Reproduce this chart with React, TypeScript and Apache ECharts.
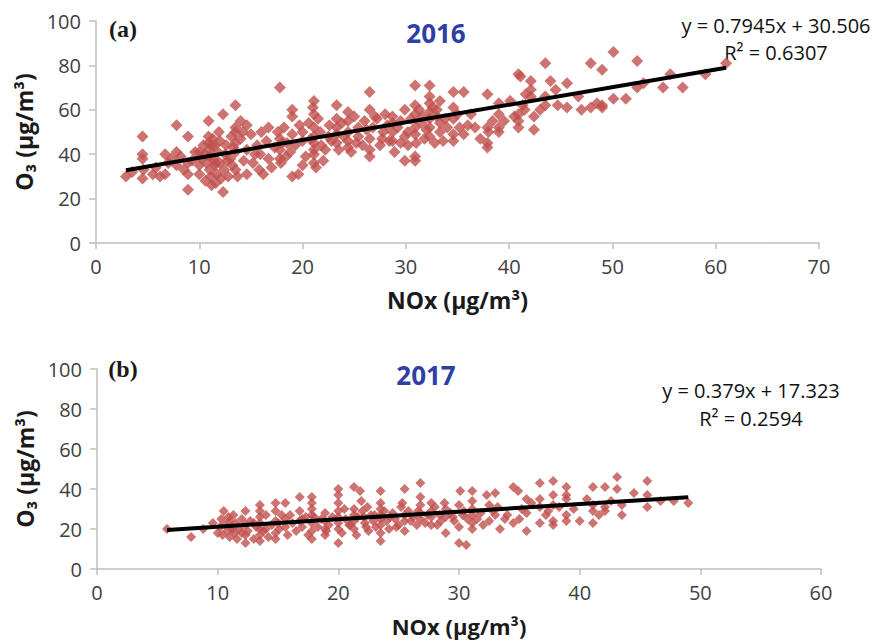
import React, { useEffect, useRef } from "react";
import * as echarts from "echarts";

// 2016 (a): NOx vs O3 observations
const nox2016: number[] = [
  2.9, 3.5, 4.5, 4.5, 4.5, 4.5, 4.6, 5.5, 5.8, 6.2, 6.7, 6.7, 7, 7.3, 7.8, 7.8, 7.8, 8.2, 8.5, 8.9, 8.9, 8.9, 8.9, 9.3, 9.6, 10, 10, 10, 10.2, 10.4,
  10.6, 10.7, 10.9, 10.9, 10.9, 11, 11, 11, 11.1, 11.2, 11.3, 11.4, 11.5, 11.5, 11.6, 11.7, 11.8, 11.9, 12, 12, 12.3, 12.3, 12.4, 12.5, 12.6, 12.8, 13, 13.1, 13.2, 13.5,
  13.5, 13.5, 13.5, 13.5, 13.5, 13.7, 14, 14, 14.3, 14.6, 14.6, 14.6, 15, 15.2, 15.6, 15.8, 15.9, 16.2, 16.5, 16.7, 16.7, 17, 17.3, 17.6, 17.8, 17.8, 17.8, 17.8, 17.9, 18.2,
  18.5, 18.8, 19, 19, 19, 19, 19.3, 19.6, 20, 20, 20, 20.3, 20.6, 21, 21.1, 21.1, 21.1, 21.1, 21.1, 21.1, 21.1, 21.1, 21.3, 21.5, 21.8, 22.2, 22.5, 22.8, 23.3, 23.3,
  23.3, 23.3, 23.3, 23.5, 23.8, 24.4, 24.4, 24.4, 24.4, 24.4, 24.7, 25, 25.4, 25.4, 25.8, 26, 26.5, 26.5, 26.5, 26.5, 26.5, 26.8, 27.2, 27.5, 27.8, 28, 28.4, 28.7, 28.7, 28.7,
  28.7, 28.9, 29.2, 29.5, 29.9, 29.9, 29.9, 30.2, 30.5, 30.9, 30.9, 30.9, 30.9, 30.9, 30.9, 30.9, 31.3, 31.5, 31.8, 32.3, 32.3, 32.3, 32.3, 32.3, 32.3, 32.3, 32.6, 32.8, 33, 33.3,
  33.3, 33.3, 33.6, 34, 34.6, 34.6, 34.6, 34.6, 34.6, 35, 35.6, 35.6, 36, 36.7, 37.2, 37.9, 37.9, 37.9, 37.9, 38.4, 39, 39, 39, 39, 40.1, 40.5, 40.9, 41.1, 40.9, 40.9,
  40.9, 41.3, 41.6, 42.1, 42.1, 42.1, 42.4, 42.4, 43, 43.5, 43.5, 43.5, 44, 44.5, 45.6, 45.6, 46.7, 47.9, 47.9, 48.5, 49, 49, 49, 50.1, 50.1, 51.3, 52.4, 52.4, 53, 54.9,
  55.6, 56.8, 59, 61,
  10.5, 11.2, 11.6, 12.1, 12.7, 13.3, 14.2, 15.4, 16, 18, 18.4, 19.7, 20.8, 21.7, 22, 22.6, 24, 25.2, 26.2, 27, 27.7, 28.2, 29.5, 30.2, 31, 31.6, 32, 33, 33.8, 35.2,
  36.3, 38, 39.5, 41.5, 44.7, 47
];
const o3_2016: number[] = [
  30, 32, 48, 40, 38, 29, 33, 31, 34, 30, 40, 31, 36, 38, 53, 41, 35, 39, 33, 48, 36, 31, 24, 37, 41, 41, 35, 31, 38, 44,
  28, 36, 55, 48, 45, 42, 39, 33, 30, 26, 47, 38, 35, 44, 27, 31, 41, 50, 36, 46, 58, 23, 33, 40, 44, 30, 38, 48, 35, 62,
  52, 50, 45, 41, 33, 30, 55, 47, 37, 53, 42, 31, 49, 36, 44, 33, 40, 31, 46, 52, 38, 34, 43, 50, 70, 47, 42, 38, 36, 52,
  45, 41, 60, 57, 49, 30, 44, 31, 50, 46, 35, 39, 54, 61, 64, 58, 52, 48, 45, 42, 40, 36, 34, 56, 44, 42, 48, 46, 62, 56,
  52, 49, 45, 42, 54, 59, 55, 50, 46, 43, 41, 57, 52, 48, 44, 55, 68, 60, 47, 42, 39, 52, 56, 44, 50, 58, 46, 57, 54, 50,
  46, 41, 52, 55, 60, 48, 37, 44, 56, 71, 62, 58, 52, 49, 39, 37, 60, 54, 47, 71, 66, 63, 59, 56, 52, 48, 61, 45, 57, 50,
  54, 64, 46, 52, 68, 61, 56, 49, 46, 58, 68, 49, 53, 52, 47, 67, 52, 45, 43, 55, 63, 58, 52, 50, 64, 57, 76, 75, 58, 55,
  52, 62, 67, 73, 69, 66, 57, 51, 60, 81, 66, 62, 73, 69, 72, 61, 66, 81, 61, 63, 78, 61, 62, 86, 65, 65, 82, 70, 72, 70,
  76, 70, 76, 81,
  40, 44, 36, 29, 37, 43, 50, 40, 50, 45, 39, 53, 47, 50, 37, 53, 48, 45, 51, 57, 47, 53, 45, 50, 45, 57, 51, 60, 56, 52,
  58, 50, 55, 60, 62, 60
];

// 2017 (b): NOx vs O3 observations
const nox2017: number[] = [
  5.8, 7.8, 8.8, 9.6, 10, 10.2, 10.3, 10.4, 10.5, 10.6, 10.8, 10.9, 11, 11, 11.1, 11.3, 11.4, 11.5, 11.6, 11.8, 12, 12.3, 12.3, 12.3, 12.3, 12.5, 12.7, 13, 13.2, 13.5,
  13.5, 13.5, 13.5, 13.5, 13.5, 13.5, 13.8, 14, 14.2, 14.5, 14.8, 14.8, 14.8, 14.8, 14.8, 15.1, 15.3, 15.6, 15.6, 15.6, 15.8, 16.2, 16.5, 16.8, 16.8, 16.8, 17, 17.3, 17.5, 17.8,
  17.8, 17.8, 17.8, 17.8, 17.8, 17.8, 18.3, 18.6, 18.9, 18.9, 18.9, 18.9, 19.2, 19.5, 20, 20, 20, 20, 20, 20, 20, 20, 20.3, 20.6, 20.9, 21.3, 21.3, 21.3, 21.3, 21.3,
  21.5, 21.8, 21.9, 22, 22.1, 22.2, 22.3, 22.5, 22.7, 22.9, 23.1, 23.5, 23.5, 23.5, 23.5, 23.5, 23.5, 23.5, 23.5, 23.8, 24, 24.2, 24.5, 24.7, 25, 25.2, 25.5, 25.5, 25.5, 25.5,
  25.8, 26.2, 26.5, 26.8, 26.8, 26.8, 26.8, 26.8, 27.2, 27.7, 27.7, 27.7, 27.7, 28, 28.4, 28.5, 28.9, 28.9, 28.9, 29.3, 29.6, 30, 30, 30, 30.1, 30.3, 30.6, 30.7, 31.1, 31.1,
  31.1, 31.1, 31.1, 31.1, 31.5, 32.3, 32.5, 32.5, 32.8, 33, 33, 33.4, 33.8, 34.5, 34.9, 34.5, 35.2, 35.6, 35.6, 35.6, 36.7, 36.7, 36.7, 36.7, 37.2, 37.8, 37.8, 37.8, 37.8, 37.8,
  38.9, 38.9, 38.9, 38.9, 38.9, 39.5, 40, 41.1, 41.1, 41.1, 41.1, 41.6, 42.1, 42.1, 42.1, 43.1, 43.1, 43.5, 43.5, 45.6, 45.6, 45.6, 46.7, 47.8, 49,
  11.2, 12, 13, 14, 15, 16, 17, 18, 19, 20.5, 21, 21.6, 22.4, 23, 24.3, 24.8, 25.3, 26, 26.6, 27.4, 28.2, 28.8, 29.5, 30.4, 31.8, 32, 33.2, 34, 35, 36,
  37.4, 38.3, 40.6, 42.6, 44.5
];
const o3_2017: number[] = [
  20, 16, 20, 23, 18, 21, 25, 17, 29, 22, 19, 26, 24, 16, 21, 27, 18, 23, 15, 20, 25, 29, 22, 13, 17, 19, 24, 15, 21, 32,
  29, 26, 23, 20, 17, 14, 19, 27, 16, 22, 33, 29, 24, 18, 15, 20, 27, 33, 25, 21, 17, 23, 19, 36, 29, 24, 21, 26, 17, 36,
  33, 30, 27, 23, 19, 15, 21, 25, 28, 24, 20, 17, 22, 26, 40, 37, 33, 29, 26, 23, 20, 13, 18, 25, 22, 41, 30, 27, 24, 20,
  17, 39, 34, 29, 26, 23, 21, 19, 27, 24, 21, 39, 33, 30, 27, 25, 22, 18, 14, 29, 24, 20, 28, 25, 22, 31, 40, 27, 24, 19,
  29, 26, 22, 43, 36, 32, 28, 25, 23, 33, 29, 26, 22, 31, 27, 24, 30, 26, 18, 28, 24, 32, 21, 13, 39, 27, 12, 25, 39, 34,
  30, 27, 23, 20, 25, 37, 32, 24, 29, 38, 27, 20, 25, 41, 39, 23, 30, 35, 28, 19, 43, 35, 31, 23, 27, 44, 37, 32, 24, 22,
  41, 37, 35, 27, 24, 30, 24, 41, 32, 29, 23, 27, 41, 31, 29, 46, 40, 32, 27, 44, 37, 31, 34, 34, 33,
  20, 18, 23, 20, 23, 27, 25, 26, 19, 30, 22, 26, 31, 27, 26, 21, 33, 24, 29, 27, 22, 33, 26, 29, 28, 22, 31, 27, 25, 33,
  29, 31, 35, 34, 38
];

// Linear trend equations shown on the chart
const fit2016 = { slope: 0.7945, intercept: 30.506, r2: "0.6307" };
const fit2017 = { slope: 0.379, intercept: 17.323, r2: "0.2594" };

const xTicks2016 = [0, 10, 20, 30, 40, 50, 60, 70];
const xTicks2017 = [0, 10, 20, 30, 40, 50, 60];
const yTicks = [0, 20, 40, 60, 80, 100];

const pairs = (xs: number[], ys: number[]) => xs.map((x, i) => [x, ys[i]]);
const trend = (xs: number[], f: { slope: number; intercept: number }) => {
  const lo = Math.min(...xs);
  const hi = Math.max(...xs);
  return [
    [lo, f.slope * lo + f.intercept],
    [hi, f.slope * hi + f.intercept],
  ];
};

const FONT = "'Open Sans', 'Noto Sans', sans-serif";
const AXIS_GRAY = "#bfbfbf";
const LABEL = "#404040";
const POINT = "#c0504d";

export default function App() {
  const ref = useRef<HTMLDivElement>(null);

  useEffect(() => {
    document.body.style.margin = "0";
    if (!ref.current) return;
    const chart = echarts.init(ref.current, null, { renderer: "svg" });

    const xAxisBase = (max: number, gap: number, size: number) => ({
      type: "value" as const,
      min: 0,
      max,
      interval: 10,
      name: "NOx (μg/m³)",
      nameLocation: "middle" as const,
      nameGap: gap,
      nameTextStyle: { fontFamily: FONT, fontSize: size, fontWeight: "bold", color: "#1a1a1a" },
      axisLine: { show: true, lineStyle: { color: AXIS_GRAY, width: 1.5 } },
      axisTick: { show: true, length: 6, lineStyle: { color: AXIS_GRAY, width: 1.5 } },
      axisLabel: { fontFamily: FONT, fontSize: 20, color: LABEL, margin: 13 },
      splitLine: { show: false },
    });
    const yAxisBase = () => ({
      type: "value" as const,
      min: 0,
      max: 100,
      interval: 20,
      name: "O₃ (μg/m³)",
      nameLocation: "middle" as const,
      nameGap: 59,
      nameTextStyle: { fontFamily: FONT, fontSize: 23, fontWeight: "bold", color: "#1a1a1a" },
      axisLine: { show: true, lineStyle: { color: AXIS_GRAY, width: 1.5 } },
      axisTick: { show: true, length: 7, lineStyle: { color: AXIS_GRAY, width: 1.5 } },
      axisLabel: { fontFamily: FONT, fontSize: 20, color: LABEL, margin: 15 },
      splitLine: { show: false },
    });

    const txt = (text: string, x: number, y: number, style: any) => ({
      type: "text",
      x,
      y,
      style: { text, align: "center", verticalAlign: "middle", ...style },
    });
    const eqStyle = { fontFamily: FONT, fontSize: 20, fontWeight: 500, fill: "#111111" };
    const yearStyle = { fontFamily: FONT, fontSize: 26, fontWeight: "bold", fill: "#2f3fa3" };
    const tagStyle = { fontFamily: "'Liberation Serif', 'Times New Roman', serif", fontSize: 24, fontWeight: "bold", fill: "#1a1a1a" };

    chart.setOption({
      animation: false,
      grid: [
        { left: 96, top: 21, width: 723, height: 222 },
        { left: 97, top: 369, width: 724, height: 200 },
      ],
      xAxis: [
        { ...xAxisBase(xTicks2016[xTicks2016.length - 1], 45, 23), gridIndex: 0 },
        { ...xAxisBase(xTicks2017[xTicks2017.length - 1], 46, 22), gridIndex: 1 },
      ],
      yAxis: [
        { ...yAxisBase(), max: yTicks[yTicks.length - 1], gridIndex: 0 },
        { ...yAxisBase(), max: yTicks[yTicks.length - 1], gridIndex: 1 },
      ],
      series: [
        {
          type: "scatter",
          xAxisIndex: 0,
          yAxisIndex: 0,
          symbol: "diamond",
          symbolSize: 12,
          itemStyle: { color: POINT },
          data: pairs(nox2016, o3_2016),
        },
        {
          type: "line",
          xAxisIndex: 0,
          yAxisIndex: 0,
          symbol: "none",
          lineStyle: { color: "#000", width: 4 },
          data: trend(nox2016, fit2016),
          z: 3,
        },
        {
          type: "scatter",
          xAxisIndex: 1,
          yAxisIndex: 1,
          symbol: "diamond",
          symbolSize: 10,
          itemStyle: { color: POINT },
          data: pairs(nox2017, o3_2017),
        },
        {
          type: "line",
          xAxisIndex: 1,
          yAxisIndex: 1,
          symbol: "none",
          lineStyle: { color: "#000", width: 4 },
          data: trend(nox2017, fit2017),
          z: 3,
        },
      ],
      graphic: [
        txt("(a)", 123, 29, tagStyle),
        txt("2016", 436, 33, yearStyle),
        txt(`y = ${fit2016.slope}x + ${fit2016.intercept}`, 776, 25, eqStyle),
        txt(`R² = ${fit2016.r2}`, 776, 52, eqStyle),
        txt("(b)", 123, 369, tagStyle),
        txt("2017", 426, 375, yearStyle),
        txt(`y = ${fit2017.slope}x + ${fit2017.intercept}`, 751, 390, eqStyle),
        txt(`R² = ${fit2017.r2}`, 751, 418, eqStyle),
      ],
    });

    return () => chart.dispose();
  }, []);

  return <div ref={ref} style={{ width: 879, height: 643 }} />;
}
